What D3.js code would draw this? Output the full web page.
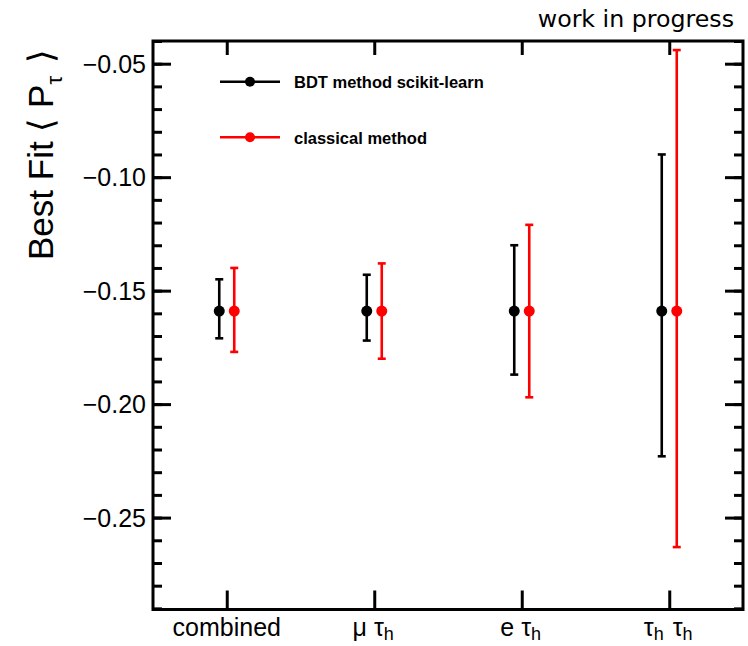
<!DOCTYPE html>
<html>
<head>
<meta charset="utf-8">
<script src="https://cdn.jsdelivr.net/npm/d3@7"></script>
<style>
  html, body { margin: 0; padding: 0; background: #fff; }
  svg { display: block; }
</style>
</head>
<body>
<svg id="chart" width="748" height="646"></svg>
<script>
// Polarisation fit results per channel, two methods
const categories = ["combined", "μ τ_h", "e τ_h", "τ_h τ_h"];
const bdtCentral = [-0.159, -0.159, -0.159, -0.159];
const bdtLow     = [-0.171, -0.172, -0.187, -0.223];
const bdtHigh    = [-0.145, -0.143, -0.130, -0.090];
const clsCentral = [-0.159, -0.159, -0.159, -0.159];
const clsLow     = [-0.177, -0.180, -0.197, -0.263];
const clsHigh    = [-0.140, -0.138, -0.121, -0.044];
const seriesNames = ["BDT method scikit-learn", "classical method"];
const yMajorTicks = [-0.25, -0.20, -0.15, -0.10, -0.05];
const yTitle = "Best Fit ⟨ P_τ ⟩";
const tagText = "work in progress";

const svg = d3.select("#chart");
const frame = { left: 153, right: 743, top: 41, bottom: 609.5 };

const x = d3.scaleLinear().domain([0, categories.length]).range([frame.left, frame.right]);
const y = d3.scaleLinear().domain([-0.2905, -0.0400]).range([frame.bottom, frame.top]);

const labelFont = "'Liberation Sans', Arial, Helvetica, sans-serif";

// Write a string into a text node, turning "_c" into a subscript tspan
function richText(sel, str, subSize, drop) {
  const parts = str.split(/(_.)/);
  parts.forEach(p => {
    if (!p) return;
    if (p[0] === "_") {
      sel.append("tspan").attr("font-size", subSize).attr("dy", drop).text(p.slice(1));
      sel.append("tspan").attr("dy", -drop).text("\u200A");
    } else {
      sel.append("tspan").text(p);
    }
  });
}

// Frame
svg.append("rect")
  .attr("x", frame.left).attr("y", frame.top)
  .attr("width", frame.right - frame.left).attr("height", frame.bottom - frame.top)
  .attr("fill", "none").attr("stroke", "#000").attr("stroke-width", 3);

// Y ticks (left and right, major every 0.05, minor every 0.01)
const minorTicks = d3.range(-29, -3).map(v => v / 100);
const yAxes = [
  [d3.axisRight(y).tickValues(minorTicks).tickSize(9), frame.left],
  [d3.axisRight(y).tickValues(yMajorTicks).tickSize(18), frame.left],
  [d3.axisLeft(y).tickValues(minorTicks).tickSize(9), frame.right],
  [d3.axisLeft(y).tickValues(yMajorTicks).tickSize(18), frame.right]
];
yAxes.forEach(([ax, pos]) => {
  const g = svg.append("g").attr("transform", `translate(${pos},0)`).call(ax.tickFormat(""));
  g.select(".domain").remove();
  g.selectAll("line").attr("stroke", "#000").attr("stroke-width", 3);
});

// Y tick labels
const fmt = d3.format(".2f");
svg.append("g").selectAll("text").data(yMajorTicks).join("text")
  .attr("x", frame.left - 7).attr("y", d => y(d)).attr("dy", "0.36em")
  .attr("text-anchor", "end")
  .attr("font-family", labelFont).attr("font-size", 25)
  .text(d => fmt(d));

// X ticks bottom and top
const catPos = categories.map((c, i) => i + 0.5);
const xAxes = [
  [d3.axisTop(x).tickValues(catPos).tickSize(19), frame.bottom],
  [d3.axisBottom(x).tickValues(catPos).tickSize(14), frame.top]
];
xAxes.forEach(([ax, pos]) => {
  const g = svg.append("g").attr("transform", `translate(0,${pos})`).call(ax.tickFormat(""));
  g.select(".domain").remove();
  g.selectAll("line").attr("stroke", "#000").attr("stroke-width", 3);
});

// X category labels
categories.forEach((c, i) => {
  const t = svg.append("text")
    .attr("x", x(catPos[i])).attr("y", 636)
    .attr("text-anchor", "middle")
    .attr("font-family", labelFont).attr("font-size", 25);
  richText(t, c, 18, 4);
});

// Y title
const yt = svg.append("text")
  .attr("transform", `translate(53,260) rotate(-90)`)
  .attr("text-anchor", "start")
  .attr("font-family", labelFont).attr("font-size", 35);
richText(yt, yTitle, 22, 9);

// "work in progress" tag
svg.append("text")
  .attr("x", 734).attr("y", 27).attr("text-anchor", "end")
  .attr("font-family", "'DejaVu Sans', sans-serif").attr("font-size", 23.7)
  .text(tagText);

// Error bars and points
const series = [
  { name: seriesNames[0], color: "#000000", c: bdtCentral, lo: bdtLow, hi: bdtHigh, off: -7.5 },
  { name: seriesNames[1], color: "#ff0000", c: clsCentral, lo: clsLow, hi: clsHigh, off: 7.5 }
];
const capW = 4;
series.forEach(s => {
  const g = svg.append("g");
  categories.forEach((cat, i) => {
    const cx = x(catPos[i]) + s.off;
    g.append("line")
      .attr("x1", cx).attr("x2", cx)
      .attr("y1", y(s.lo[i])).attr("y2", y(s.hi[i]))
      .attr("stroke", s.color).attr("stroke-width", 2.6);
    [s.lo[i], s.hi[i]].forEach(v => {
      g.append("line")
        .attr("x1", cx - capW).attr("x2", cx + capW)
        .attr("y1", y(v)).attr("y2", y(v))
        .attr("stroke", s.color).attr("stroke-width", 2.6);
    });
    g.append("circle")
      .attr("cx", cx).attr("cy", y(s.c[i])).attr("r", 5.5)
      .attr("fill", s.color);
  });
});

// Legend
const legendY = [81.7, 137.3];
series.forEach((s, i) => {
  const g = svg.append("g");
  g.append("line")
    .attr("x1", 220).attr("x2", 280).attr("y1", legendY[i]).attr("y2", legendY[i])
    .attr("stroke", s.color).attr("stroke-width", 2.6);
  g.append("circle").attr("cx", 250).attr("cy", legendY[i]).attr("r", 5).attr("fill", s.color);
  g.append("text")
    .attr("x", 294).attr("y", legendY[i] + 6.3)
    .attr("font-family", labelFont).attr("font-weight", "bold").attr("font-size", 16.5)
    .text(s.name);
});
</script>
</body>
</html>
